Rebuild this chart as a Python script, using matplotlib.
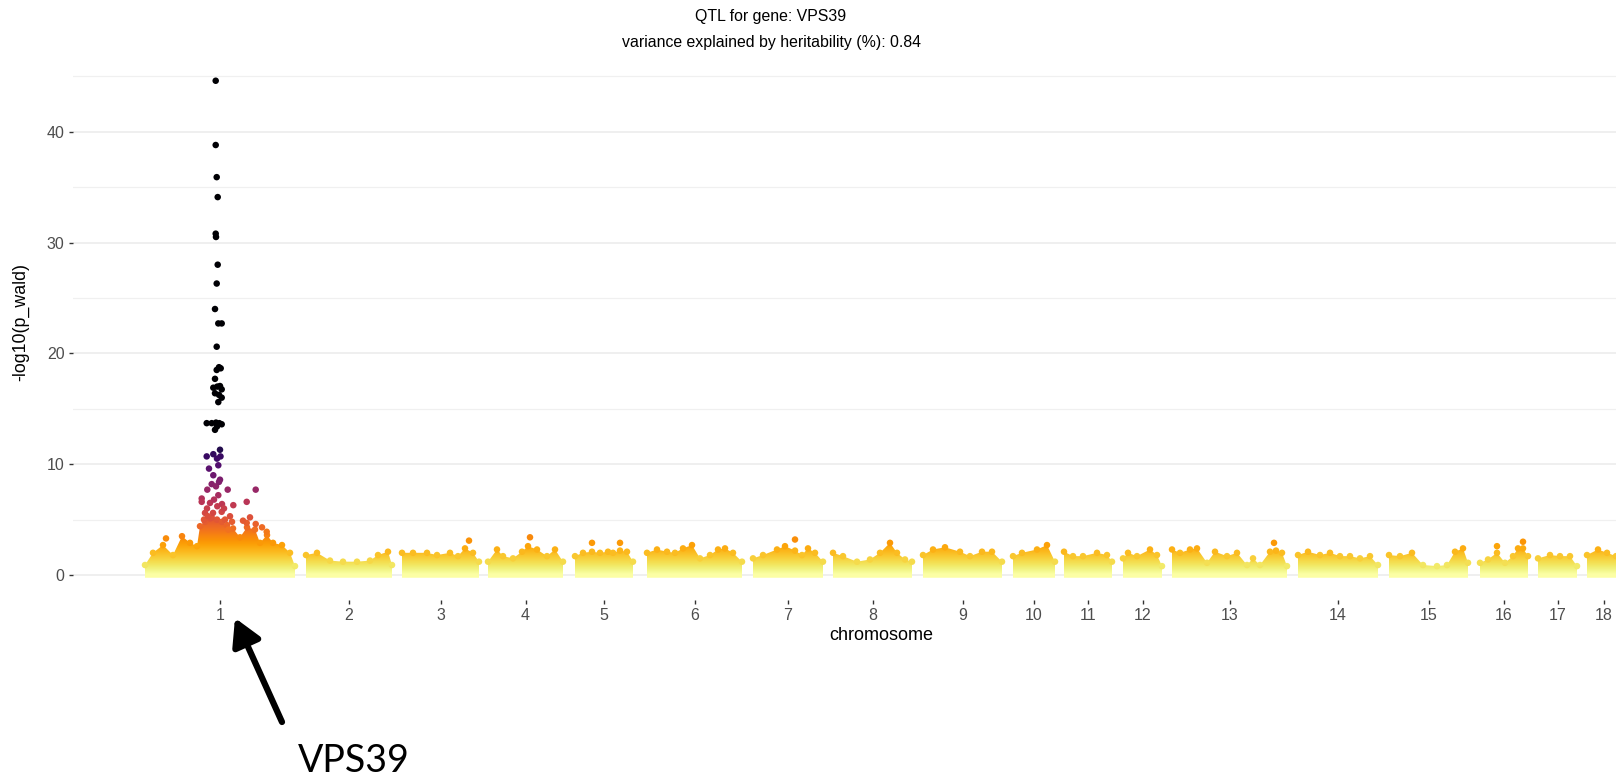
import numpy as np
import matplotlib.pyplot as plt
from matplotlib.path import Path
from matplotlib.patches import PathPatch
from matplotlib.colors import Normalize

plt.rcParams['font.family'] = ['Liberation Sans', 'DejaVu Sans']

# chromosome extents on the concatenated genome axis
chrom_names = [str(i) for i in range(1, 19)]
chrom_start = [0, 161, 257, 343, 430, 502, 608, 688, 778, 868, 919, 978, 1027, 1153, 1244, 1335, 1393, 1442]
chrom_end = [150, 247, 334, 418, 488, 597, 678, 767, 857, 910, 967, 1017, 1142, 1233, 1323, 1383, 1432, 1476]

# upper edge of the dense SNP cloud per chromosome (-log10 p)
env_pos = [
    [0, 8, 18, 28, 37, 45, 52, 55, 60, 65, 72, 77, 82, 88, 95, 102, 110, 115, 122, 128, 137, 145, 150],
    [161, 172, 185, 198, 212, 225, 233, 243, 247],
    [257, 268, 282, 292, 305, 313, 320, 328, 334],
    [343, 352, 358, 368, 377, 383, 392, 402, 410, 418],
    [430, 438, 447, 455, 463, 468, 475, 482, 488],
    [502, 512, 522, 530, 538, 547, 555, 565, 573, 580, 588, 597],
    [608, 618, 632, 640, 650, 657, 663, 670, 678],
    [688, 698, 712, 725, 735, 745, 752, 760, 767],
    [778, 788, 800, 815, 825, 837, 847, 857],
    [868, 877, 892, 902, 910],
    [919, 928, 938, 952, 962, 967],
    [978, 983, 992, 1005, 1012, 1017],
    [1027, 1035, 1045, 1052, 1062, 1070, 1082, 1092, 1102, 1108, 1115, 1125, 1131, 1137, 1142],
    [1153, 1163, 1175, 1185, 1195, 1205, 1215, 1225, 1233],
    [1244, 1255, 1267, 1278, 1292, 1302, 1310, 1318, 1323],
    [1335, 1343, 1352, 1360, 1368, 1373, 1378, 1383],
    [1393, 1405, 1415, 1425, 1432],
    [1442, 1453, 1462, 1471, 1476],
]
env_val = [
    [0.9, 2.0, 2.7, 1.8, 3.5, 2.9, 2.6, 4.4, 4.8, 5.1, 5.0, 4.8, 4.5, 4.2, 3.4, 4.3, 4.1, 2.9, 3.6, 2.9, 2.7, 2.0, 0.8],
    [1.8, 2.0, 1.3, 1.2, 1.2, 1.3, 1.8, 2.1, 0.9],
    [2.0, 2.0, 2.0, 1.8, 2.0, 1.7, 2.4, 2.0, 1.2],
    [1.2, 2.3, 1.7, 1.5, 2.1, 2.6, 2.3, 1.7, 2.3, 1.2],
    [1.7, 2.0, 2.1, 2.0, 2.1, 2.0, 2.2, 2.1, 1.2],
    [2.0, 2.3, 2.1, 2.0, 2.4, 2.7, 1.5, 1.8, 2.3, 2.4, 2.0, 1.2],
    [1.5, 1.8, 2.3, 2.6, 2.2, 1.8, 2.4, 2.0, 1.2],
    [2.0, 1.7, 1.2, 1.4, 2.0, 2.9, 2.0, 1.4, 1.2],
    [1.8, 2.3, 2.5, 2.1, 1.7, 2.1, 2.1, 1.2],
    [1.7, 2.0, 2.3, 2.7, 1.2],
    [2.1, 1.7, 1.7, 2.0, 1.8, 1.2],
    [1.5, 2.0, 1.7, 2.3, 1.8, 0.8],
    [2.3, 2.0, 2.3, 2.4, 1.1, 2.1, 1.7, 2.0, 0.9, 1.5, 0.9, 2.1, 2.2, 2.0, 0.8],
    [1.8, 2.1, 1.8, 2.0, 1.7, 1.7, 1.5, 1.7, 0.9],
    [1.8, 1.7, 2.0, 0.9, 0.8, 0.9, 2.1, 2.4, 1.1],
    [1.1, 1.4, 2.0, 1.1, 1.7, 2.4, 2.4, 1.7],
    [1.5, 1.8, 1.7, 1.7, 0.8],
    [1.8, 2.3, 2.0, 1.7, 1.7],
]

# isolated SNPs standing just above the cloud
lone_pos = [21, 324, 385, 447, 475, 650, 1129, 1352, 1378]
lone_val = [3.3, 3.1, 3.4, 2.9, 2.9, 3.2, 2.9, 2.6, 3.0]

# cis-QTL signal on chromosome 1
lead_pos = [70.7, 70.7, 71.7, 72.7, 70.7, 71.0, 72.7, 71.7, 70.0, 73.3, 76.7, 71.7, 74.0, 75.7, 71.7,
            70.0, 68.3, 72.3, 75.0, 76.7, 70.0, 74.0, 76.7, 73.3, 61.7, 66.7, 71.0, 74.3, 76.7, 70.0,
            72.0, 61.7, 68.3, 75.0, 75.5, 72.0, 64.0, 73.3, 68.3, 75.0, 66.7, 71.0, 82.7, 110.7, 62.3,
            73.3, 56.7, 65.0, 72.3, 101.7, 88.3, 56.7, 76.7, 59.0, 66.7, 85.0, 101.7, 110.7, 121.7, 83.3,
            69.0, 77.0, 62.0, 68.0, 79.0, 74.0, 105.0, 98.0, 117.0, 60.0, 80.0, 87.0, 63.0]
lead_val = [44.6, 38.8, 35.9, 34.1, 30.8, 30.5, 28.0, 26.3, 24.0, 22.7, 22.7, 20.6, 18.75, 18.65, 18.5,
            17.7, 16.9, 17.0, 17.05, 16.75, 16.4, 16.25, 16.0, 15.6, 13.7, 13.7, 13.75, 13.7, 13.6, 13.1,
            13.4, 10.7, 10.9, 11.3, 10.7, 10.5, 9.6, 9.9, 9.0, 8.6, 8.2, 8.0, 7.7, 7.7, 7.7,
            7.2, 6.9, 6.5, 6.2, 6.6, 6.3, 6.6, 5.7, 5.0, 5.2, 5.3, 4.7, 4.6, 3.9, 4.1,
            6.8, 6.4, 6.0, 5.6, 6.0, 8.4, 5.2, 4.9, 4.3, 5.6, 5.0, 4.8, 5.3]

title_gene = 'QTL for gene: VPS39'
title_h2 = 'variance explained by heritability (%): 0.84'

cmap = plt.get_cmap('inferno_r')
norm = Normalize(vmin=0, vmax=13, clip=True)

fig = plt.figure(figsize=(16.16, 7.76), dpi=100)
ax = fig.add_axes([73 / 1616, 0.2272, 1 - 73 / 1616, 0.7006])

# dense background cloud: polygons filled with a vertical colour ramp
polys = []
for s, e, px, pv in zip(chrom_start, chrom_end, env_pos, env_val):
    verts = [(s, -0.25)] + list(zip(px, pv)) + [(e, -0.25), (s, -0.25)]
    codes = [Path.MOVETO] + [Path.LINETO] * (len(verts) - 2) + [Path.CLOSEPOLY]
    polys.append(Path(verts, codes))
cloud = PathPatch(Path.make_compound_path(*polys), transform=ax.transData,
                  facecolor='none', edgecolor='none')
ax.add_patch(cloud)
ramp = np.linspace(-0.3, 13, 400).reshape(-1, 1)
im = ax.imshow(ramp, cmap=cmap, norm=norm, origin='lower', aspect='auto',
               extent=(-72, 1500, -0.3, 13), interpolation='bilinear', zorder=2)
im.set_clip_path(cloud)

for px, pv in zip(env_pos, env_val):
    ax.scatter(px, pv, c=pv, cmap=cmap, norm=norm, s=22, linewidths=0, zorder=3)
ax.scatter(lone_pos, lone_val, c=lone_val, cmap=cmap, norm=norm, s=22, linewidths=0, zorder=3)
ax.scatter(lead_pos, lead_val, c=lead_val, cmap=cmap, norm=norm, s=22, linewidths=0, zorder=4)

ax.set_xlim(-72, 1471)
ax.set_ylim(-2.23, 46.83)

mids = [(s + e) / 2 for s, e in zip(chrom_start, chrom_end)]
ax.set_xticks(mids)
ax.set_xticklabels(chrom_names)
ax.set_yticks([0, 10, 20, 30, 40])
ax.set_yticks([5, 15, 25, 35, 45], minor=True)
ax.tick_params(axis='both', which='major', length=3, width=1, color='#333333',
               labelcolor='#4d4d4d', labelsize=11.5, pad=3)
ax.tick_params(axis='y', which='minor', length=0)
ax.grid(axis='y', which='major', color='#ebebeb', lw=1.1)
ax.grid(axis='y', which='minor', color='#f0f0f0', lw=0.9)
ax.set_axisbelow(True)
for sp in ax.spines.values():
    sp.set_visible(False)

fig.text(21 / 1616, 1 - 322 / 776, '-log10(p_wald)', rotation=90, ha='center', va='center', fontsize=12.8)
fig.text(881 / 1616, 1 - 636 / 776, 'chromosome', ha='center', va='center', fontsize=13)
fig.text(771 / 1616, 1 - 16 / 776, title_gene, ha='center', va='center', fontsize=11.4)
fig.text(771 / 1616, 1 - 42 / 776, title_h2, ha='center', va='center', fontsize=11.4)

# callout pointing at the gene's chromosome
ax.annotate('', xy=(235, 776 - 618), xycoords='figure pixels',
            xytext=(282, 776 - 722), textcoords='figure pixels',
            arrowprops=dict(arrowstyle='-|>,head_length=0.8,head_width=0.45', lw=4.5,
                            color='black', mutation_scale=20, shrinkA=0, shrinkB=0),
            annotation_clip=False)
fig.text(298 / 1616, 4 / 776, 'VPS39', fontsize=27, family=['Lato', 'DejaVu Sans'],
         ha='left', va='baseline')

fig.savefig('out.png', dpi=100)
